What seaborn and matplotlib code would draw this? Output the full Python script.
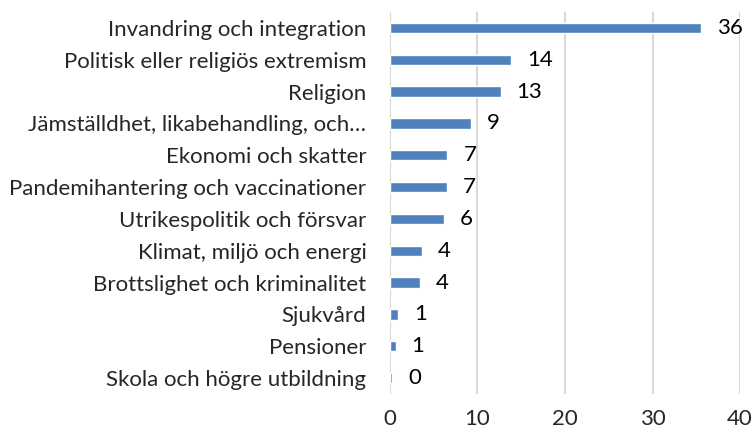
import matplotlib
matplotlib.use('Agg')
import matplotlib.pyplot as plt
import pandas as pd
import seaborn as sns

# Categories, top to bottom as shown in the chart
categories = [
    'Invandring och integration',
    'Politisk eller religiös extremism',
    'Religion',
    'Jämställdhet, likabehandling, och…',
    'Ekonomi och skatter',
    'Pandemihantering och vaccinationer',
    'Utrikespolitik och försvar',
    'Klimat, miljö och energi',
    'Brottslighet och kriminalitet',
    'Sjukvård',
    'Pensioner',
    'Skola och högre utbildning',
]

# Bar lengths
values = [35.55, 13.83, 12.64, 9.24, 6.57, 6.46, 6.15, 3.67, 3.44, 0.96, 0.65, 0.23]

# Rounded labels printed next to each bar
value_labels = ['36', '14', '13', '9', '7', '7', '6', '4', '4', '1', '1', '0']

x_ticks = [0, 10, 20, 30, 40]

df = pd.DataFrame({'category': categories, 'value': values})

sns.set_style('white')
plt.rcParams['font.family'] = ['Lato', 'DejaVu Sans']

fig = plt.figure(figsize=(7.52, 4.32), dpi=100)
ax = fig.add_axes([390 / 752, 1 - 394 / 432, 350 / 752, 382 / 432])

sns.barplot(
    data=df,
    x='value',
    y='category',
    order=categories,
    color='#4F81BD',
    saturation=1,
    width=0.32,
    orient='h',
    ax=ax,
)

# Value labels just outside the bar ends
for patch, label in zip(ax.patches, value_labels):
    y = patch.get_y() + patch.get_height() / 2
    ax.annotate(
        label,
        xy=(patch.get_width(), y),
        xytext=(11.5, 0),
        textcoords='offset points',
        ha='left',
        va='center',
        fontsize=16,
        color='black',
    )

ax.set_xlim(0, 40)
ax.set_xticks(x_ticks)
ax.set_xlabel('')
ax.set_ylabel('')
ax.xaxis.grid(True, color='#d9d9d9', linewidth=1.5)
ax.set_axisbelow(True)
for spine in ax.spines.values():
    spine.set_visible(False)
ax.tick_params(axis='y', length=0, pad=17, labelsize=16)
ax.tick_params(axis='x', length=0, pad=11, labelsize=16)

fig.savefig('out.png', dpi=100)
